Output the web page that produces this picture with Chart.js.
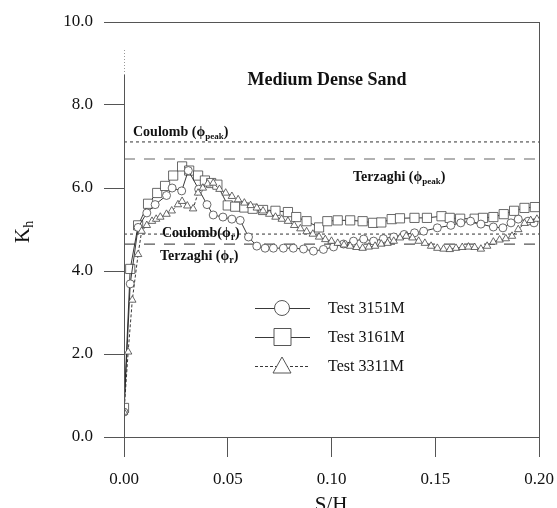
<!DOCTYPE html>
<html><head><meta charset="utf-8">
<script src="https://cdn.jsdelivr.net/npm/chart.js@4.4.1/dist/chart.umd.min.js"></script>
<style>html,body{margin:0;padding:0;background:#fff}#wrap{width:557px;height:508px;position:relative}</style>
</head><body><div id="wrap"><canvas id="c"></canvas></div>
<script>
// axis ticks
const X_TICKS=[0,0.05,0.10,0.15,0.20];
const Y_TICKS=[0,2,4,6,8,10];

// Test 3151M (circles)
const T3151_X=[0,0.003,0.0068,0.011,0.015,0.0205,0.0232,0.0278,0.031,0.036,0.040,0.043,0.0477,0.052,0.056,0.060,0.064,0.068,0.072,0.0768,0.0816,0.0865,0.0913,0.0961,0.101,0.1058,0.1106,0.1155,0.1203,0.125,0.130,0.135,0.140,0.1444,0.151,0.1575,0.1623,0.167,0.172,0.178,0.1826,0.1865,0.190,0.1947,0.1976];
const T3151_K=[0.6,3.69,5.05,5.4,5.6,5.82,6.0,5.93,6.42,5.97,5.6,5.35,5.3,5.25,5.22,4.82,4.6,4.55,4.55,4.55,4.55,4.53,4.48,4.52,4.58,4.65,4.72,4.77,4.72,4.78,4.82,4.88,4.92,4.96,5.04,5.1,5.16,5.2,5.13,5.06,5.04,5.16,5.25,5.2,5.16];

// Test 3161M (squares)
const T3161_X=[0,0.003,0.0068,0.0116,0.016,0.0198,0.0237,0.028,0.0314,0.0357,0.039,0.042,0.045,0.050,0.0536,0.058,0.062,0.067,0.073,0.079,0.083,0.088,0.094,0.098,0.103,0.109,0.115,0.120,0.124,0.129,0.133,0.140,0.146,0.153,0.157,0.162,0.169,0.173,0.178,0.183,0.188,0.193,0.198];
const T3161_K=[0.7,4.05,5.1,5.62,5.88,6.05,6.3,6.52,6.42,6.3,6.18,6.12,6.08,5.58,5.55,5.53,5.5,5.47,5.45,5.42,5.3,5.2,5.05,5.2,5.22,5.22,5.2,5.16,5.17,5.25,5.27,5.28,5.28,5.32,5.28,5.26,5.26,5.28,5.3,5.37,5.45,5.52,5.54];

// Test 3311M (triangles)
const T3311_X=[0,0.002,0.004,0.0068,0.0085,0.011,0.0135,0.0155,0.0175,0.0205,0.023,0.026,0.028,0.0305,0.0333,0.0357,0.038,0.0403,0.043,0.046,0.049,0.052,0.055,0.058,0.061,0.064,0.067,0.070,0.073,0.076,0.079,0.082,0.085,0.088,0.091,0.094,0.097,0.100,0.103,0.106,0.109,0.112,0.115,0.118,0.121,0.124,0.127,0.130,0.133,0.136,0.139,0.142,0.145,0.148,0.151,0.154,0.157,0.160,0.163,0.166,0.169,0.172,0.175,0.178,0.181,0.184,0.187,0.190,0.193,0.196,0.199];
const T3311_K=[0.6,2.05,3.3,4.4,4.96,5.1,5.2,5.25,5.3,5.37,5.45,5.6,5.68,5.57,5.5,5.88,6.0,6.1,6.12,5.97,5.88,5.8,5.72,5.64,5.58,5.52,5.45,5.37,5.3,5.25,5.2,5.1,5.02,4.95,4.89,4.82,4.76,4.72,4.67,4.63,4.6,4.57,4.55,4.58,4.6,4.65,4.67,4.72,4.8,4.84,4.8,4.72,4.67,4.6,4.55,4.53,4.52,4.55,4.57,4.58,4.57,4.53,4.6,4.7,4.75,4.78,4.84,5.0,5.15,5.22,5.25];

// theoretical Kh levels
const REF_NAMES=['Coulomb peak','Terzaghi peak','Coulomb r','Terzaghi r'];
const REF_K=[7.11,6.70,4.89,4.65];
const X_RANGE=[0,0.2];

const SERIF='"Liberation Serif","Times New Roman",serif';
const pts=(xs,ys)=>xs.map((x,i)=>({x,y:ys[i]}));

const refStyle=[
  {dash:[3,3],color:'#333',w:1},
  {dash:[11,9],color:'#999',w:1.6},
  {dash:[3,3],color:'#333',w:1},
  {dash:[11,9],color:'#555',w:1.2},
];
const refSets=REF_K.map((k,i)=>({
  label:REF_NAMES[i],data:X_RANGE.map(x=>({x,y:k})),
  borderColor:refStyle[i].color,borderWidth:refStyle[i].w,borderDash:refStyle[i].dash,
  pointRadius:0,isRef:true,order:10
}));

const mk=(label,data,style,r,dash,order)=>({
  label,data,pointStyle:style,pointRadius:r,pointHoverRadius:r,
  pointBackgroundColor:'#fff',pointBorderColor:'#444',pointBorderWidth:0.8,
  borderColor:'#222',borderWidth:0.9,borderDash:dash,tension:0,order
});
const testSets=[
  mk('Test 3151M',pts(T3151_X,T3151_K),'circle',4,[],2),
  mk('Test 3161M',pts(T3161_X,T3161_K),'rect',6.5,[],3),
  mk('Test 3311M',pts(T3311_X,T3311_K),'triangle',4.3,[3,2],1),
];

function txt(ctx,x,y,parts){
  // parts: [text, font, dy]
  let cx=x;
  parts.forEach(([t,f,dy])=>{ ctx.font=f; ctx.fillText(t,cx,y+(dy||0)); cx+=ctx.measureText(t).width; });
}

const deco={
  id:'deco',
  afterDraw(chart){
    const ctx=chart.ctx,a=chart.chartArea;
    ctx.save();
    // frame
    ctx.strokeStyle='#555'; ctx.lineWidth=1;
    ctx.beginPath();
    ctx.moveTo(a.left,a.top+0.5); ctx.lineTo(a.right+0.5,a.top+0.5);
    ctx.moveTo(a.right+0.5,a.top); ctx.lineTo(a.right+0.5,a.bottom+20);
    ctx.moveTo(a.left+0.5,75); ctx.lineTo(a.left+0.5,a.bottom);
    ctx.stroke();
    ctx.strokeStyle='#999'; ctx.setLineDash([1,2]);
    ctx.beginPath(); ctx.moveTo(a.left+0.5,50); ctx.lineTo(a.left+0.5,75); ctx.stroke();
    ctx.setLineDash([]);

    // title and labels
    ctx.fillStyle='#111'; ctx.textBaseline='alphabetic';
    ctx.font='bold 18px '+SERIF; ctx.textAlign='center';
    ctx.fillText('Medium Dense Sand',327,85);
    ctx.textAlign='left';
    const B='bold 14px '+SERIF,Bs='bold 9px '+SERIF,Br='bold 10px '+SERIF;
    txt(ctx,133,136,[['Coulomb (ϕ',B],['peak',Bs,3],[')',B]]);
    txt(ctx,353,181,[['Terzaghi (ϕ',B],['peak',Bs,3],[')',B]]);
    txt(ctx,162,237,[['Coulomb(ϕ',B],['r',Br,3],[')',B]]);
    txt(ctx,160,260,[['Terzaghi (ϕ',B],['r',Br,3],[')',B]]);

    // legend
    testSets.forEach((d,i)=>{
      const y=308+i*29;
      ctx.strokeStyle='#222'; ctx.lineWidth=0.9; ctx.setLineDash(d.borderDash);
      ctx.beginPath(); ctx.moveTo(255,y+0.5); ctx.lineTo(310,y+0.5); ctx.stroke();
      ctx.setLineDash([]);
      ctx.strokeStyle='#444'; ctx.fillStyle='#fff'; ctx.lineWidth=0.9;
      ctx.beginPath();
      if(d.pointStyle==='circle') ctx.arc(282,y,7.5,0,Math.PI*2);
      else if(d.pointStyle==='rect') ctx.rect(274,y-8.5,17,17);
      else { ctx.moveTo(282,y-9); ctx.lineTo(291,y+7); ctx.lineTo(273,y+7); ctx.closePath(); }
      ctx.fill(); ctx.stroke();
      ctx.fillStyle='#111'; ctx.font='16px '+SERIF; ctx.textBaseline='middle';
      ctx.fillText(d.label,328,y+1);
    });

    // axis titles
    ctx.textBaseline='alphabetic';
    ctx.save(); ctx.translate(29,243); ctx.rotate(-Math.PI/2);
    txt(ctx,0,0,[['K','21px '+SERIF],['h','14px '+SERIF,4]]);
    ctx.restore();
    ctx.textAlign='center'; ctx.font='21px '+SERIF;
    ctx.fillText('S/H',331,511);
    ctx.restore();
  }
};

new Chart(document.getElementById('c'),{
  type:'line',
  data:{datasets:[...testSets,...refSets]},
  options:{
    responsive:true,maintainAspectRatio:false,animation:false,
    layout:{padding:{top:22,right:18,left:0,bottom:0}},
    plugins:{legend:{display:false},tooltip:{enabled:false}},
    scales:{
      x:{type:'linear',min:0,max:0.2,
        afterBuildTicks:s=>{ s.ticks=X_TICKS.map(v=>({value:v})); },
        afterFit:s=>{ s.height=71; s.paddingLeft=0; s.paddingRight=0; },
        grid:{drawOnChartArea:false,tickLength:20,color:'#555'},
        border:{display:true,color:'#555'},
        ticks:{padding:12,color:'#111',font:{family:SERIF,size:17},callback:v=>v.toFixed(2),maxRotation:0}},
      y:{type:'linear',min:0,max:10,
        afterBuildTicks:s=>{ s.ticks=Y_TICKS.map(v=>({value:v})); },
        afterFit:s=>{ s.width=124; s.paddingTop=0; s.paddingBottom=0; },
        grid:{drawOnChartArea:false,tickLength:20,color:'#555'},
        border:{display:false},
        ticks:{padding:11,color:'#111',font:{family:SERIF,size:17},callback:v=>v.toFixed(1)}},
    }
  },
  plugins:[deco]
});
</script></body></html>
